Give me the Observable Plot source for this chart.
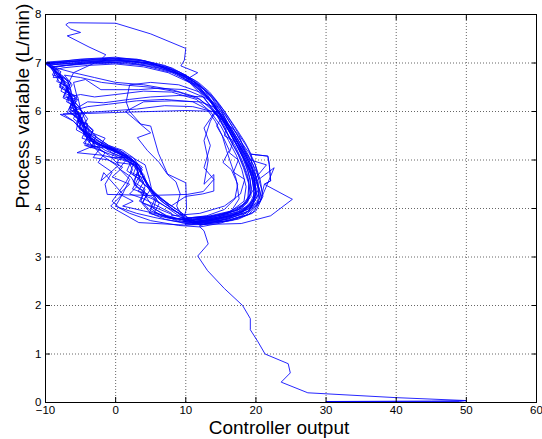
<!DOCTYPE html>
<html><head><meta charset="utf-8">
<script src="https://cdn.jsdelivr.net/npm/d3@7"></script>
<script src="https://cdn.jsdelivr.net/npm/@observablehq/plot@0.6"></script>
<style>body{margin:0;background:#fff;} #chart svg{display:block}</style>
</head><body><div id="chart"></div><script>
const xTicks = [-10,0,10,20,30,40,50,60];
const yTicks = [0,1,2,3,4,5,6,7,8];
const xLabel = "Controller output";
const yLabel = "Process variable (L/min)";

// start-up: flow zero, then rising
const rise = [[2,0],[50,0],[49,0.02],[30,0.02],[45,0.03],[50,0.04],[40,0.1],[27.4,0.2],[23.6,0.42],[24.9,0.61],[24.6,0.8],[21.3,1.0],[20.3,1.25],[19.2,1.5],[19.2,1.73],[18.1,2.0],[15.5,2.35],[13.1,2.72],[11.7,3.02],[13.2,3.27],[12.6,3.54],[12.0,3.62]];
// first overshoot loop
const overshoot = [[9,3.65],[5,3.75],[2,3.9],[0,4.05],[1,4.3],[2,4.6],[0,4.9],[-2,5.1],[-4,5.4],[-5,5.8],[-6,6.2],[-7,6.5],[-6,6.8],[-3,7.0],[-1.4,7.05],[-1.9,7.1],[-1.4,7.17],[-3.8,7.33],[-6.9,7.56],[-5,7.63],[-6.4,7.7],[-7.1,7.79],[-6.7,7.83],[0,7.82],[5,7.6],[10,7.3],[9.8,7.06],[9.3,6.94],[11.7,6.8],[10.1,6.66],[12,6.5],[13.5,6.2],[15,5.9],[16.5,5.5],[18,5.1],[19.5,4.7],[20,4.3],[19,4.0],[16,3.8],[12,3.65]];
const cycA = [[12,3.62],[15,3.7],[18,3.85],[20.2,4.1],[20.5,4.4],[19.5,4.8],[18.5,5.1],[17.2,5.4],[16,5.7],[14.5,6.0],[13.2,6.3],[12,6.5],[10,6.75],[7,6.95],[3,7.08],[-1,7.1],[-5,7.05],[-10,7.0],[-8.5,6.85],[-8.9,6.7],[-7.5,6.7],[-7.9,6.5],[-6.8,6.4],[-6,6.2],[-6.6,6.05],[-5.2,5.9],[-5.6,5.75],[-4.6,5.6],[-3.5,5.4],[-4.2,5.3],[-1.5,5.25],[1,5.1],[0.2,4.95],[2.8,4.9],[3.5,4.6],[2.9,4.45],[4.5,4.3],[3.8,4.1],[5,3.9],[7,3.78],[10,3.7]];
const cycB = [[12.5,3.68],[16,3.78],[19,3.95],[20,4.25],[19.8,4.6],[21.5,4.9],[19.2,5.0],[18,5.3],[16.8,5.55],[15.2,5.9],[14,6.15],[12.6,6.45],[10.8,6.65],[8,6.85],[4,7.0],[0,7.05],[-4,7.02],[-8,6.98],[-9.5,6.95],[-8,6.75],[-7.2,6.55],[-6.4,6.45],[-6.8,6.2],[-5.5,6.05],[-6,5.85],[-4.2,5.65],[-4.8,5.45],[-2.5,5.35],[-0.5,5.15],[2,5.0],[3.2,4.75],[2.5,4.55],[4.2,4.4],[3.6,4.15],[5,3.95],[7.5,3.82],[10,3.76]];
const cycC = [[11,3.8],[14,3.85],[17,3.95],[18.8,4.15],[19,4.5],[18.2,4.85],[17.5,5.1],[16.2,5.45],[15,5.8],[13.8,6.05],[12.2,6.35],[10.5,6.6],[7.5,6.8],[4,6.92],[0,6.98],[-4,6.95],[-7.5,6.9],[-8.8,6.85],[-7.5,6.65],[-8,6.55],[-7,6.45],[-5.8,6.3],[-6.2,6.1],[-5,5.9],[-5.4,5.8],[-4,5.75],[-4.5,5.5],[-3,5.4],[-3.6,5.25],[-2,5.3],[0,5.2],[-0.6,5.05],[2,5.05],[3.8,4.85],[3.1,4.7],[4.2,4.6],[5,4.4],[4.3,4.25],[5.2,4.05],[4.8,3.9],[7.5,3.8],[10.5,3.78]];
const cycD = [[12,3.7],[16.5,3.75],[19.5,3.9],[20.8,4.2],[20.2,4.55],[19.6,4.9],[18.4,5.2],[17.6,5.5],[16,5.75],[15,6.05],[13.5,6.25],[11.5,6.55],[9.5,6.75],[6,6.9],[2,7.0],[-3,7.02],[-7,6.95],[-9,6.92],[-8.2,6.7],[-6.5,6.55],[-7.2,6.35],[-6,6.15],[-4.5,5.95],[-5.2,5.7],[-3.8,5.5],[-3,5.3],[-5.5,5.15],[-2,5.1],[1,5.0],[3,4.9],[2.5,4.7],[4,4.55],[3.2,4.35],[5,4.25],[7,4.05],[9.5,3.8]];
const cycE = [[11,3.78],[14,3.82],[16.5,3.95],[17.6,4.2],[17.2,4.6],[16.5,4.9],[15.8,5.2],[15.2,5.5],[14.2,5.8],[13,6.05],[11,6.2],[7,6.25],[3,6.22],[-1,6.15],[-4,6.1],[-6.5,6.0],[-5.5,5.85],[-4,5.65],[-3.5,5.45],[-2,5.35],[0.5,5.15],[2.5,4.95],[4,4.7],[4.5,4.5],[5.5,4.3],[7,4.1],[9,3.9]];
const cycF = [[10,3.75],[13,3.8],[16,3.9],[18,4.05],[19.2,4.3],[18.8,4.7],[18,5.0],[17,5.3],[15.7,5.6],[14.5,5.9],[13.8,6.0],[11,6.1],[7,6.12],[3,6.05],[-2,6.0],[-7.5,5.95],[-6,5.8],[-4.8,5.6],[-3,5.5],[-1,5.3],[1,5.2],[2.5,5.05],[3.5,4.85],[4,4.6],[5,4.4],[6.5,4.2],[8,4.0],[9.5,3.85]];
const cycG = [[11,3.7],[15,3.78],[18,3.9],[19.6,4.15],[19.8,4.5],[19,4.85],[18,5.15],[17.4,5.35],[16.3,5.65],[15,5.95],[14,6.15],[12,6.4],[9,6.55],[5,6.6],[2,6.55],[1.5,6.2],[2,6.0],[3.6,5.74],[5,5.7],[6.1,5.14],[7.4,4.71],[10,4.53],[10.1,4.0],[9.6,3.74]];
const cycH = [[10,3.72],[14,3.78],[17,3.9],[19.3,4.1],[20.4,4.4],[19.5,4.75],[19.3,5.12],[21.7,5.08],[21.9,4.91],[22.1,4.57],[21.2,4.5],[25.2,4.19],[22.1,3.85],[17.9,3.69],[9.7,3.66],[3.3,3.71],[0,3.98],[-0.7,4.05],[1,4.3],[-1.7,4.74],[-2.1,4.57],[0.5,4.9],[-1,5.1],[-3,5.3],[-4.2,5.6],[-5,5.9],[-6.3,6.2],[-7,6.55],[-8.5,6.85],[-9.6,7.0],[-5,7.08],[0,7.12],[4,7.05],[8,6.85],[10.5,6.65],[12.5,6.4],[14,6.15],[15.2,5.85],[16.5,5.55],[17.8,5.25],[18.8,4.95],[19.8,4.6],[20,4.25],[18,3.95],[14,3.8],[11,3.72]];
const cycI = [[11,3.7],[15,3.8],[18,3.92],[19.8,4.2],[19.5,4.6],[18.7,4.9],[17.8,5.2],[16.8,5.45],[15.6,5.75],[14.6,6.0],[10,6.02],[5,6.0],[0,5.98],[-4,5.96],[-7.9,5.94],[-6,5.8],[-5,5.65],[-3.5,5.45],[-2,5.3],[0.5,5.15],[2.8,4.95],[3.8,4.7],[4.6,4.45],[6,4.25],[8,4.05],[10,3.85]];
const cycJ = [[10.5,3.75],[14.5,3.82],[17.5,3.98],[19,4.2],[19,4.55],[18.3,4.85],[17.4,5.15],[16.4,5.4],[15.5,5.7],[14.2,6.0],[12.5,6.3],[10,6.45],[6,6.48],[3.3,6.45],[-2.1,6.45],[-4.3,6.66],[-6,6.6],[-5.5,6.3],[-6.5,6.1],[-5,5.95],[-5.5,5.7],[-4,5.55],[-2.5,5.4],[-0.5,5.25],[1.5,5.1],[3,4.9],[3.4,4.6],[4.8,4.4],[6.5,4.15],[8.5,3.95],[10.5,3.8]];
const cycK = [[12,3.66],[16,3.74],[19,3.88],[20.6,4.15],[22.6,4.84],[20.4,4.6],[19.9,4.9],[19,5.15],[18,5.35],[16.8,5.65],[15.5,5.95],[14.2,6.25],[12.8,6.45],[11.2,6.65],[8,6.9],[4,7.05],[0,7.1],[-4,7.08],[-9.8,7.02],[-8.6,6.9],[-9,6.75],[-7.6,6.7],[-8,6.5],[-6.6,6.4],[-7,6.2],[-5.6,6.1],[-5.8,5.9],[-4.4,5.75],[-4.6,5.55],[-3.2,5.4],[-1.5,5.28],[0.5,5.15],[2.5,5.0],[3.8,4.8],[3.2,4.6],[4.5,4.45],[5.6,4.2],[5,4.0],[6.5,3.85],[9.5,3.74],[11.5,3.7]];
const cycN = [[11,3.78],[15,3.86],[18,4.0],[19.3,4.25],[19.2,4.6],[18.5,4.95],[17.5,5.25],[16.3,5.55],[15.3,5.8],[14.3,6.0],[13.5,5.8],[12.6,5.4],[13.2,5.0],[12.6,4.5],[14,4.7],[14,4.36],[12.4,4.3],[10,4.25],[7.9,4.05],[5.5,4.3],[4.2,4.6],[3,4.85],[1,5.05],[-1.5,5.2],[-3.5,5.4],[-4.5,5.7],[-5.5,6.0],[-6.5,6.35],[-8,6.7],[-9.8,6.98],[-5,7.05],[0,7.08],[5,7.0],[8.5,6.8],[11,6.55],[13,6.3],[14.5,6.0],[16,5.7],[17.3,5.4],[18.5,5.1],[19.5,4.8],[20,4.4],[19.6,4.1],[17.5,3.9],[14,3.78],[11,3.72]];
const cycO = [[12,3.7],[16,3.78],[19,3.95],[20.2,4.25],[19.7,4.65],[18.8,5.0],[17.9,5.25],[16.9,5.5],[15.4,5.85],[14.1,6.1],[12.6,6.35],[10.8,6.6],[8,6.8],[4,6.95],[0,7.0],[-4,6.98],[-7,6.95],[-9.2,6.9],[-8,6.6],[-6.8,6.5],[-7.4,6.3],[-5.4,6.25],[-6.6,6.0],[-4.8,5.8],[-3.2,5.6],[-4.6,5.35],[-2.2,5.25],[-3.2,5.05],[-1,5.0],[1,4.85],[-0.5,4.65],[2,4.5],[0.5,4.3],[2.5,4.15],[1,4.05],[4,3.95],[7,3.85],[10,3.75]];
const cycP = [[10,3.8],[13.5,3.85],[16.5,3.95],[18.3,4.15],[18.6,4.45],[18,4.8],[17.2,5.1],[16.1,5.4],[15,5.7],[13.5,6.0],[11.5,6.25],[8,6.4],[4,6.42],[0,6.35],[-3,6.3],[-5,6.35],[-6.8,6.3],[-5.2,6.1],[-4.4,5.85],[-3.8,5.6],[-2.6,5.45],[-1,5.3],[1.2,5.15],[2.5,5.0],[3.6,4.75],[4.5,4.5],[5.8,4.3],[7.5,4.1],[9.5,3.9]];
const cycQ = [[10,3.66],[14,3.7],[17.5,3.78],[20,3.95],[21,4.25],[20.6,4.6],[19.8,4.95],[18.8,5.25],[17.7,5.5],[16.4,5.8],[15.3,6.05],[13.8,6.3],[12.3,6.5],[10.5,6.7],[7,6.92],[3,7.03],[-2,7.05],[-6,7.0],[-9.4,6.96],[-7.8,6.82],[-8.4,6.62],[-6.9,6.52],[-7.5,6.28],[-6.2,6.2],[-6.9,5.98],[-5.2,5.88],[-5.6,5.62],[-4,5.5],[-4.4,5.3],[-2.6,5.22],[-0.8,5.12],[1.8,4.98],[3.2,4.82],[2.6,4.5],[4.1,4.35],[3.4,4.15],[5.5,4.0],[7.5,3.82],[9.5,3.7]];
const cycR = [[11,3.68],[15.5,3.74],[18.5,3.86],[20.3,4.1],[20.8,4.4],[20.1,4.75],[19.1,5.05],[18.1,5.32],[17,5.6],[15.7,5.92],[14.5,6.15],[13.2,6.38],[11.6,6.58],[9,6.78],[5,6.95],[1,7.02],[-3,7.0],[-7,6.98],[-9.7,6.98],[-8.3,6.78],[-6.9,6.66],[-6.3,6.4],[-6.1,6.1],[-5.4,5.85],[-4.7,5.6],[-3.9,5.42],[-2.2,5.3],[-0.2,5.2],[1.6,5.05],[2.4,4.8],[1.5,4.55],[0.5,4.35],[-0.5,4.15],[0.5,4.02],[3,3.9],[6,3.8],[9,3.72]];
const cycS = [[9,3.72],[13,3.76],[16.5,3.85],[19,4.05],[19.9,4.35],[19.3,4.7],[18.4,5.0],[17.3,5.3],[16.2,5.6],[15,5.85],[14.2,6.0],[12.6,5.66],[13.5,5.3],[12.6,4.84],[14,4.6],[12.5,4.35],[10.2,4.29],[5,4.27],[-1.2,4.29],[-1.5,4.5],[-0.5,4.75],[-2.5,4.95],[-1.5,5.15],[-3.5,5.3],[-4.2,5.55],[-5,5.8],[-5.8,6.1],[-6.6,6.4],[-7.8,6.7],[-9.2,6.92],[-4,7.0],[1,7.05],[6,6.95],[9.5,6.72],[12,6.45],[13.6,6.2],[15,5.95],[16.6,5.62],[17.8,5.32],[19,5.0],[20,4.65],[20.4,4.3],[19.2,4.0],[16,3.82],[12.5,3.72],[10,3.7]];
const cycT = [[10,3.7],[14,3.76],[17.5,3.9],[20.6,4.15],[21.2,4.5],[22.1,4.57],[21.9,4.91],[21.7,5.08],[19.3,5.12],[18.5,5.35],[17.4,5.6],[16,5.9],[14.8,6.15],[13.4,6.4],[11.8,6.6],[9,6.82],[5,7.0],[0,7.06],[-5,7.03],[-9.9,7.0],[-8.4,6.8],[-7.2,6.62],[-7.8,6.42],[-6.2,6.3],[-6.5,6.05],[-5,5.9],[-4.2,5.62],[-3.4,5.5],[-1.8,5.32],[0.8,5.15],[2.4,5.05],[4.2,4.9],[4.8,4.6],[5.2,4.35],[6.2,4.1],[5.5,3.92],[8,3.8],[10.5,3.76]];
const cycU = [[10.5,3.75],[14,3.8],[17,3.92],[18.8,4.12],[19.4,4.4],[18.9,4.75],[18.1,5.05],[17.1,5.35],[16.1,5.62],[15,5.9],[13.9,6.1],[12,6.2],[8,6.22],[4,6.2],[1.4,6.0],[3.6,5.73],[5,5.56],[3.1,5.46],[4.5,5.2],[6.2,4.95],[7.4,4.7],[8.6,4.55],[9.2,4.3],[8.7,4.05],[9.5,3.85]];
const cycV = [[9.5,3.8],[13,3.82],[16,3.92],[18.4,4.1],[19.7,4.4],[19.2,4.8],[18.3,5.1],[17.3,5.38],[16.2,5.68],[15.1,5.98],[13.8,6.2],[12.5,6.3],[9,6.33],[5,6.3],[2,6.25],[-1.7,6.18],[-4,6.2],[-5.8,6.05],[-4.6,5.8],[-3.2,5.62],[-3.8,5.42],[-1.8,5.3],[0.6,5.2],[2.3,5.0],[1.6,4.78],[3.2,4.62],[2.4,4.4],[4.5,4.3],[3.8,4.12],[6,4.0],[8,3.88],[10,3.78]];
const cycW = [[11,3.7],[15,3.76],[18.6,3.9],[20.5,4.2],[20.3,4.55],[19.4,4.88],[18.3,5.2],[17.3,5.46],[16.2,5.72],[15,6.0],[13.7,6.28],[12.2,6.5],[10.3,6.7],[7.5,6.9],[3.5,7.05],[-0.5,7.08],[-4.5,7.05],[-8.5,7.0],[-9.9,6.97],[-8.8,6.86],[-7.4,6.72],[-6.6,6.56],[-7.2,6.42],[-5.6,6.28],[-6,6.02],[-4.8,5.86],[-5.2,5.64],[-3.6,5.5],[-2.8,5.36],[-0.9,5.22],[1.6,5.08],[3.3,4.88],[3.9,4.64],[4.7,4.42],[5.8,4.2],[5.4,4.0],[7.2,3.86],[9.2,3.78],[11,3.74]];
const cycX = [[10,3.8],[13,3.85],[15.5,3.98],[17,4.2],[17.4,4.5],[16.5,4.8],[15.3,4.95],[16.2,5.2],[15.4,5.45],[14.4,5.7],[15,5.85],[13.6,6.05],[12,6.25],[9,6.4],[5,6.5],[1,6.55],[-2,6.6],[-5,6.7],[-7.3,6.75],[-6.2,6.55],[-6.8,6.4],[-5.4,6.3],[-5,6.05],[-4,5.85],[-4.6,5.7],[-3.2,5.55],[-1.5,5.45],[-2.2,5.3],[0,5.2],[1.5,5.0],[0.5,4.82],[2.2,4.65],[3,4.45],[2,4.3],[4,4.2],[6,4.05],[8,3.9]];
const cycY = [[8,3.85],[12,3.9],[15.5,4.05],[17.8,4.3],[18.4,4.6],[16.8,4.75],[17.5,5.0],[16.2,5.15],[16.8,5.4],[15.5,5.5],[15.9,5.75],[14.6,5.9],[13.4,6.1],[11.5,6.3],[8,6.45],[4,6.55],[0,6.6],[-3,6.7],[-6,6.8],[-8.5,6.9],[-7.6,6.7],[-6.4,6.6],[-6.9,6.4],[-5.8,6.2],[-4.8,6.0],[-5.2,5.8],[-3.9,5.65],[-2.8,5.5],[-3.2,5.35],[-1.2,5.25],[0.8,5.1],[2.6,4.95],[2.1,4.75],[3.6,4.65],[4.2,4.45],[3.6,4.3],[5.2,4.2],[7,4.05],[9,3.9]];

const path = [rise, overshoot, cycA, cycB, cycC, cycD, cycE, cycF, cycG, cycH, cycI, cycJ, cycK, cycN, cycO, cycP, cycQ, cycR, cycS, cycT, cycU, cycV, cycW, cycX, cycY].flat();
const pts = path.map(([x, y]) => ({x, y}));

const font = "'Liberation Sans', Arial, Helvetica, sans-serif";
const chart = Plot.plot({
  width: 542, height: 439,
  marginLeft: 45, marginRight: 6, marginTop: 14, marginBottom: 37,
  style: {fontFamily: font, fontSize: "11.5px", background: "#fff", color: "#000"},
  x: {domain: [-10, 60]},
  y: {domain: [0, 8]},
  marks: [
    Plot.gridX(xTicks, {stroke: "#333", strokeOpacity: 0.75, strokeDasharray: "1,2"}),
    Plot.gridY(yTicks, {stroke: "#333", strokeOpacity: 0.75, strokeDasharray: "1,2"}),
    Plot.line(pts, {x: "x", y: "y", stroke: "#0000ff", strokeWidth: 0.85}),
    Plot.frame({stroke: "#000", strokeWidth: 1}),
    Plot.axisX(xTicks, {anchor: "bottom", tickSize: 0, tickPadding: 3, label: null}),
    Plot.axisX(xTicks, {anchor: "bottom", tickSize: -5, tickFormat: () => "", label: null}),
    Plot.axisX(xTicks, {anchor: "top", tickSize: -5, tickFormat: () => "", label: null}),
    Plot.axisY(yTicks, {anchor: "left", tickSize: 0, tickPadding: 4, label: null}),
    Plot.axisY(yTicks, {anchor: "left", tickSize: -5, tickFormat: () => "", label: null}),
    Plot.axisY(yTicks, {anchor: "right", tickSize: -5, tickFormat: () => "", label: null}),
    Plot.text([xLabel], {frameAnchor: "bottom", dy: 31, dx: -12, fontSize: 19, fill: "#000"}),
    Plot.text([yLabel], {frameAnchor: "left", rotate: -90, dx: -23, fontSize: 19, fill: "#000"})
  ]
});
document.getElementById("chart").appendChild(chart);
</script></body></html>
